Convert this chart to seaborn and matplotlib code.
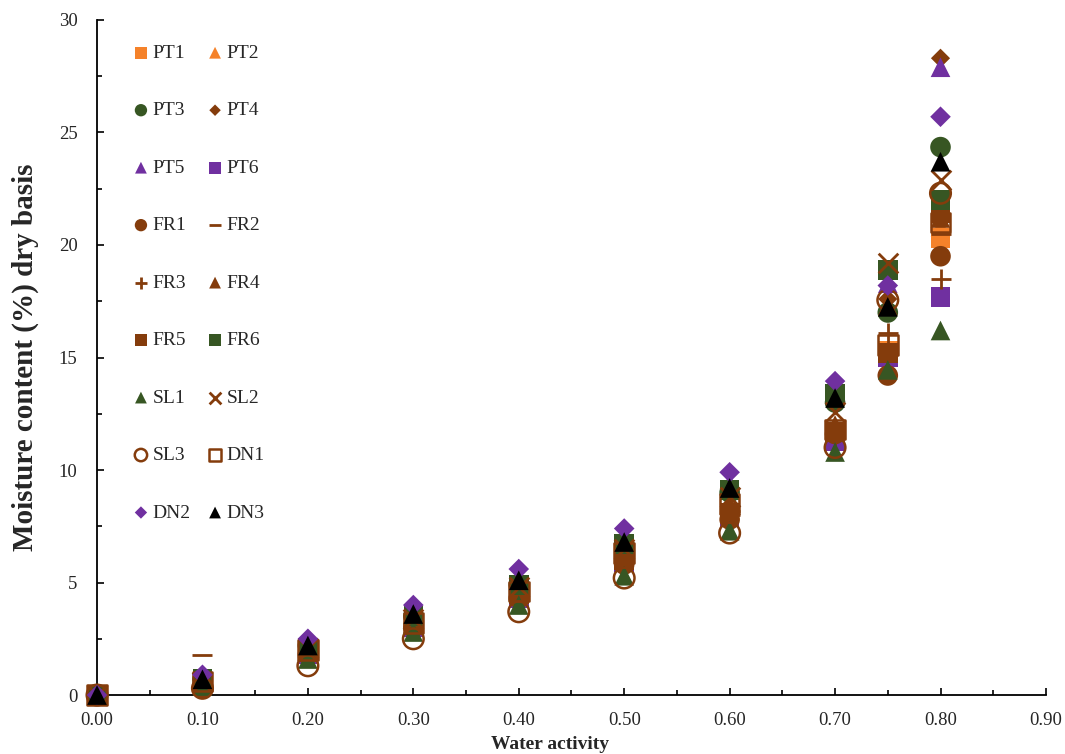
import matplotlib
matplotlib.use('Agg')
import matplotlib.pyplot as plt
import pandas as pd
import seaborn as sns
from matplotlib.ticker import MultipleLocator, FormatStrFormatter

# water activity levels
aw = [0.0, 0.1, 0.2, 0.3, 0.4, 0.5, 0.6, 0.7, 0.75, 0.8]

# moisture content (% dry basis) per sample
PT1 = [0, 0.5, 1.9, 3.1, 4.4, 6.0, 8.0, 11.5, 15.3, 20.3]
PT2 = [0, 0.6, 2.0, 3.2, 4.5, 6.2, 8.3, 11.8, 15.2, 20.8]
PT3 = [0, 0.7, 2.2, 3.5, 4.9, 6.7, 9.0, 13.0, 17.0, 24.35]
PT4 = [0, 0.8, 2.3, 3.6, 5.0, 6.8, 9.2, 13.3, 17.6, 28.3]
PT5 = [0, 0.8, 2.3, 3.7, 5.1, 7.0, 9.4, 13.6, 18.3, 27.9]
PT6 = [0, 0.5, 1.8, 3.0, 4.3, 5.9, 7.9, 11.3, 15.0, 17.7]
FR1 = [0, 0.3, 1.8, 3.0, 4.3, 5.8, 7.8, 11.6, 14.2, 19.5]
FR2 = [0, 1.8, 2.0, 3.2, 4.5, 6.1, 8.2, 11.7, 15.3, 20.5]
FR3 = [0, 0.5, 1.9, 3.0, 4.3, 6.0, 8.0, 11.5, 16.1, 18.5]
FR4 = [0, 0.6, 2.0, 3.2, 4.6, 6.3, 8.5, 12.0, 17.3, 21.2]
FR5 = [0, 0.5, 1.9, 3.2, 4.5, 6.0, 8.1, 11.7, 15.2, 21.4]
FR6 = [0, 0.7, 2.1, 3.5, 4.9, 6.7, 9.1, 13.4, 18.9, 22.0]
SL1 = [0, 0.4, 1.6, 2.8, 4.0, 5.3, 7.3, 10.8, 14.45, 16.2]
SL2 = [0, 0.6, 2.1, 3.4, 4.8, 6.5, 8.8, 12.6, 19.2, 22.9]
SL3 = [0, 0.3, 1.3, 2.5, 3.7, 5.2, 7.2, 11.0, 17.55, 22.3]
DN1 = [0, 0.6, 2.0, 3.2, 4.6, 6.3, 8.5, 11.8, 15.55, 21.0]
DN2 = [0, 0.9, 2.5, 4.0, 5.6, 7.4, 9.9, 13.95, 18.2, 25.7]
DN3 = [0, 0.7, 2.2, 3.6, 5.1, 6.8, 9.2, 13.2, 17.25, 23.7]

names = ['PT1', 'PT2', 'PT3', 'PT4', 'PT5', 'PT6', 'FR1', 'FR2', 'FR3',
         'FR4', 'FR5', 'FR6', 'SL1', 'SL2', 'SL3', 'DN1', 'DN2', 'DN3']
values = [PT1, PT2, PT3, PT4, PT5, PT6, FR1, FR2, FR3,
          FR4, FR5, FR6, SL1, SL2, SL3, DN1, DN2, DN3]

orange = '#F5822A'
green = '#375623'
brown = '#843C0C'
purple = '#7030A0'

# (marker, colour, size, open?)
styles = {
    'PT1': ('s', orange, 200, False),
    'PT2': ('^', orange, 200, False),
    'PT3': ('o', green, 220, False),
    'PT4': ('D', brown, 95, False),
    'PT5': ('^', purple, 200, False),
    'PT6': ('s', purple, 200, False),
    'FR1': ('o', brown, 220, False),
    'FR2': ('_', brown, 220, False),
    'FR3': ('+', brown, 220, False),
    'FR4': ('^', brown, 200, False),
    'FR5': ('s', brown, 200, False),
    'FR6': ('s', green, 200, False),
    'SL1': ('^', green, 200, False),
    'SL2': ('x', brown, 200, False),
    'SL3': ('o', brown, 220, True),
    'DN1': ('s', brown, 200, True),
    'DN2': ('D', purple, 110, False),
    'DN3': ('^', 'black', 200, False),
}

sns.set_style('ticks')
plt.rcParams['font.family'] = ['Liberation Serif', 'DejaVu Serif']

fig = plt.figure(figsize=(10.65, 7.54), dpi=100)
ax = fig.add_axes([0.0911, 0.0782, 0.891, 0.8953])

for name, vals in zip(names, values):
    df = pd.DataFrame({'aw': aw, 'mc': vals})
    mk, col, s, hollow = styles[name]
    kw = dict(marker=mk, s=s, label=name, clip_on=False, zorder=3)
    if hollow:
        kw.update(facecolors='none', edgecolor=col, linewidth=1.8)
    elif mk in ('+', 'x', '_'):
        kw.update(color=col, linewidth=2)
    else:
        kw.update(color=col, edgecolor='none', linewidth=0)
    sns.scatterplot(data=df, x='aw', y='mc', ax=ax, **kw)

ax.set_xlim(0, 0.9)
ax.set_ylim(0, 30)
ax.set_xticks([i / 10 for i in range(10)])
ax.set_yticks(range(0, 31, 5))
ax.xaxis.set_minor_locator(MultipleLocator(0.05))
ax.xaxis.set_major_formatter(FormatStrFormatter('%.2f'))
ax.yaxis.set_minor_locator(MultipleLocator(2.5))
ax.tick_params(which='both', direction='in', labelsize=13.5, color='black', width=1.2)
ax.tick_params(which='major', length=5)
ax.tick_params(which='minor', length=3.5)
ax.tick_params(axis='x', which='major', pad=12)
ax.tick_params(axis='y', which='major', pad=14)
for sp in ['left', 'bottom']:
    ax.spines[sp].set_linewidth(1.3)
    ax.spines[sp].set_color('black')
sns.despine(ax=ax)

ax.set_xlabel('Water activity', fontsize=14, fontweight='bold')
ax.xaxis.set_label_coords(0.477, -0.061, transform=ax.transAxes)
ax.xaxis.label.set_va('top')
ax.set_ylabel('Moisture content (%) dry basis', fontsize=21, fontweight='bold', labelpad=14)

# legend filled row by row like the original
handles, labels = ax.get_legend_handles_labels()
order = list(range(0, 18, 2)) + list(range(1, 18, 2))
leg = ax.legend([handles[i] for i in order], [labels[i] for i in order],
                ncol=2, loc='upper left', bbox_to_anchor=(0.0176, 0.99),
                frameon=False, fontsize=14, markerscale=0.6,
                labelspacing=2.05, handletextpad=0.1, columnspacing=0.75,
                handlelength=1.0)

fig.savefig('out.png', dpi=100)
